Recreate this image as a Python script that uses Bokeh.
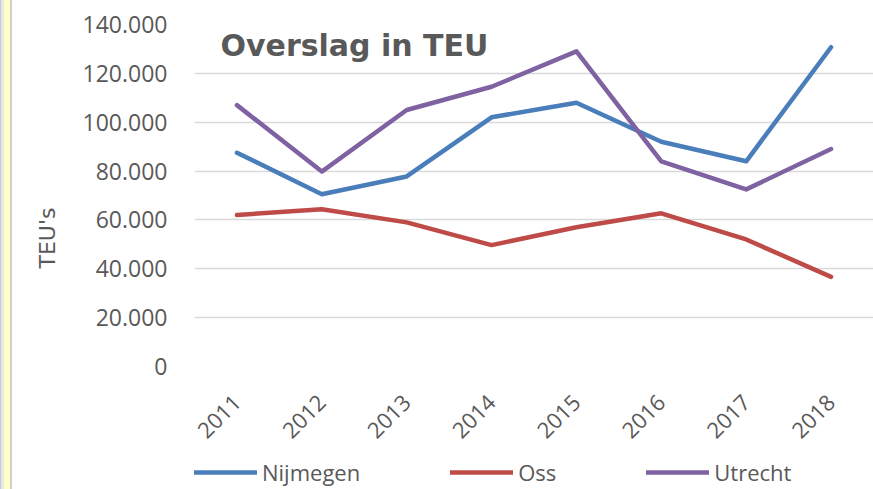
import math
from bokeh.plotting import figure
from bokeh.models import Range1d, FixedTicker, Legend, LegendItem, Label, Title, Div
from bokeh.layouts import row, column
from bokeh.embed import file_html
from bokeh.resources import INLINE

years = ["2011", "2012", "2013", "2014", "2015", "2016", "2017", "2018"]
nijmegen = [87500, 70500, 77800, 102000, 108000, 92000, 84000, 130700]
oss = [62000, 64400, 59000, 49700, 57000, 62700, 52000, 36700]
utrecht = [107000, 79800, 105000, 114500, 129000, 84000, 72500, 89000]

y_ticks = [0, 20000, 40000, 60000, 80000, 100000, 120000, 140000]
y_tick_labels = ["0", "20.000", "40.000", "60.000", "80.000", "100.000", "120.000", "140.000"]

series_names = ["Nijmegen", "Oss", "Utrecht"]
series_values = [nijmegen, oss, utrecht]
colors = ["#4A7EBB", "#BE4B48", "#7E62A1"]

FONT = "Open Sans"
TXT = "#595959"
STRIP = 12
W = 873 - STRIP
LEG_H = 41

p = figure(width=W, height=489 - LEG_H, x_range=years, y_range=Range1d(0, 140000),
           output_backend="svg", toolbar_location=None,
           min_border_left=185 - STRIP, min_border_right=0, min_border_top=24,
           min_border_bottom=489 - LEG_H - 368)
p.outline_line_color = None
p.background_fill_color = "white"
p.border_fill_color = "white"

for vals, c in zip(series_values, colors):
    p.line(years, vals, line_color=c, line_width=4.5, line_cap="round", line_join="round")

p.xgrid.grid_line_color = None
p.ygrid.grid_line_color = "#D9D9D9"
p.ygrid.grid_line_width = 1.5
p.yaxis.ticker = FixedTicker(ticks=y_ticks)
p.yaxis.major_label_overrides = {t: l for t, l in zip(y_ticks, y_tick_labels)}

for ax in (p.xaxis[0], p.yaxis[0]):
    ax.axis_line_color = None
    ax.major_tick_line_color = None
    ax.minor_tick_line_color = None
    ax.major_label_text_font = FONT
    ax.major_label_text_color = TXT

p.yaxis.major_label_text_font_size = "23px"
p.yaxis.major_label_standoff = 21

p.xaxis.major_label_text_font_size = "22px"
p.xaxis.major_label_orientation = math.pi / 4
p.xaxis.major_label_standoff = 26

ylab = Title(text="TEU's", align="left", offset=98, standoff=40,
             text_font="DejaVu Sans", text_font_style="normal", text_font_size="22px",
             text_color=TXT)
p.add_layout(ylab, "left")

title = Label(x=26, y=339, x_units="screen", y_units="screen", text="Overslag in TEU",
              text_font="DejaVu Sans", text_font_style="bold", text_font_size="30px",
              text_color=TXT, text_baseline="top", text_align="left")
p.add_layout(title)

# strip below the chart that carries the legend
p2 = figure(width=W, height=LEG_H, x_range=years, y_range=Range1d(0, 1),
            x_axis_type=None, y_axis_type=None, output_backend="svg", toolbar_location=None,
            min_border_left=0, min_border_right=0, min_border_top=0, min_border_bottom=0)
p2.outline_line_color = None
p2.background_fill_color = "white"
p2.border_fill_color = "white"
p2.xgrid.visible = False
p2.ygrid.visible = False
leg_renderers = []
for vals, c in zip(series_values, colors):
    leg_renderers.append(p2.line(years, vals, line_color=c, line_width=4.5, line_cap="round"))

legend = Legend(items=[LegendItem(label=n, renderers=[r]) for n, r in zip(series_names, leg_renderers)],
                orientation="horizontal", location=(0, 2),
                glyph_width=63, glyph_height=20, label_standoff=5, spacing=90,
                padding=0, margin=0, border_line_color=None, background_fill_alpha=0,
                label_text_font=FONT, label_text_font_size="22px", label_text_color=TXT)
p2.add_layout(legend, "center")

strip = Div(text="", width=STRIP, height=489, margin=0,
            styles={"background": "linear-gradient(to right, #C8C8C8 0px, #C8C8C8 1px, #E8E8E8 1px, #E8E8E8 4px, #FFFFC8 4px, #FFFFC8 10px, #CFCFCF 10px, #CFCFCF 12px)"})

layout = row(strip, column(p, p2, spacing=0), spacing=0)
open("out.html", "w").write(file_html(layout, INLINE))
